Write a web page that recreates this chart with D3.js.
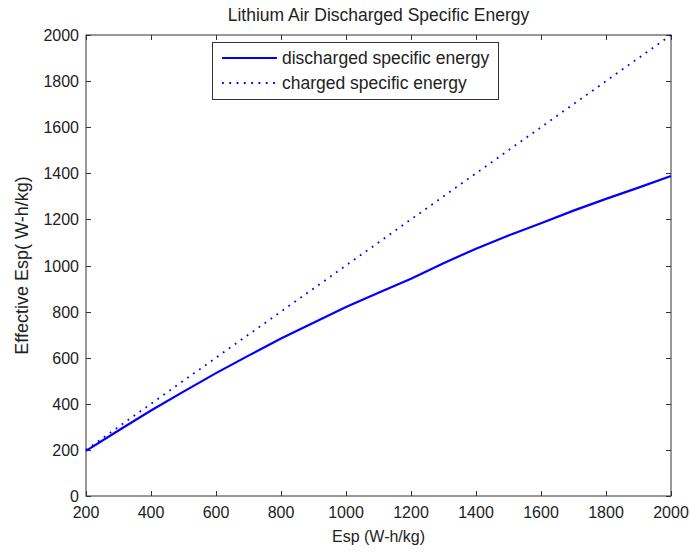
<!DOCTYPE html>
<html>
<head>
<meta charset="utf-8">
<script src="https://cdn.jsdelivr.net/npm/d3@7/dist/d3.min.js"></script>
<style>
  html, body { margin: 0; padding: 0; background: #fff; }
  svg text { font-family: "Liberation Sans", Arial, sans-serif; fill: #222; }
</style>
</head>
<body>
<svg id="chart" width="690" height="552"></svg>
<script>
// Specific energy before discharge (W-h/kg)
const esp = [200, 300, 400, 500, 600, 700, 800, 900, 1000, 1100, 1200, 1300, 1400, 1500, 1600, 1700, 1800, 1900, 2000];
// Effective specific energy once discharged (W-h/kg)
const discharged = [196, 284, 371, 453, 533, 609, 683, 752, 820, 882, 943, 1010, 1073, 1130, 1183, 1238, 1289, 1338, 1388];
// Charged specific energy equals the nominal value
const charged = [200, 300, 400, 500, 600, 700, 800, 900, 1000, 1100, 1200, 1300, 1400, 1500, 1600, 1700, 1800, 1900, 2000];

const xTicks = [200, 400, 600, 800, 1000, 1200, 1400, 1600, 1800, 2000];
const yTicks = [0, 200, 400, 600, 800, 1000, 1200, 1400, 1600, 1800, 2000];
const seriesNames = ["discharged specific energy", "charged specific energy"];

const svg = d3.select("#chart");
const L = 86, R = 671, T = 35, B = 496;

const x = d3.scaleLinear().domain([200, 2000]).range([L, R]);
const y = d3.scaleLinear().domain([0, 2000]).range([B, T]);

const axisColor = "#333";
const tickLen = 5;

// Plot box
svg.append("rect")
  .attr("x", L).attr("y", T).attr("width", R - L).attr("height", B - T)
  .attr("fill", "#fff").attr("stroke", axisColor).attr("stroke-width", 1);

// Ticks pointing inward on all four sides
const g = svg.append("g").attr("stroke", axisColor).attr("stroke-width", 1);
xTicks.forEach(t => {
  const px = Math.round(x(t)) + 0.5;
  g.append("line").attr("x1", px).attr("x2", px).attr("y1", B).attr("y2", B - tickLen);
  g.append("line").attr("x1", px).attr("x2", px).attr("y1", T).attr("y2", T + tickLen);
});
yTicks.forEach(t => {
  const py = Math.round(y(t)) + 0.5;
  g.append("line").attr("x1", L).attr("x2", L + tickLen).attr("y1", py).attr("y2", py);
  g.append("line").attr("x1", R).attr("x2", R - tickLen).attr("y1", py).attr("y2", py);
});

// Tick labels
svg.append("g").selectAll("text").data(xTicks).join("text")
  .attr("x", d => x(d)).attr("y", 518)
  .attr("text-anchor", "middle").attr("font-size", 16)
  .text(d => d);
svg.append("g").selectAll("text").data(yTicks).join("text")
  .attr("x", 79).attr("y", d => y(d) + 6)
  .attr("text-anchor", "end").attr("font-size", 16)
  .text(d => d);

// Title and axis labels
svg.append("text").attr("x", (L + R) / 2).attr("y", 21)
  .attr("text-anchor", "middle").attr("font-size", 17.5)
  .text("Lithium Air Discharged Specific Energy");
svg.append("text").attr("x", (L + R) / 2).attr("y", 542)
  .attr("text-anchor", "middle").attr("font-size", 16)
  .text("Esp (W-h/kg)");
svg.append("text")
  .attr("transform", `translate(28,${(T + B) / 2}) rotate(-90)`)
  .attr("text-anchor", "middle").attr("font-size", 18)
  .text("Effective Esp( W-h/kg)");

// Data lines
const line = d3.line().x(d => x(d[0])).y(d => y(d[1]));
svg.append("path")
  .datum(esp.map((e, i) => [e, charged[i]]))
  .attr("d", line).attr("fill", "none")
  .attr("stroke", "#0000ff").attr("stroke-width", 1.8)
  .attr("stroke-dasharray", "1.8,5.5");
svg.append("path")
  .datum(esp.map((e, i) => [e, discharged[i]]))
  .attr("d", line).attr("fill", "none")
  .attr("stroke", "#0000ff").attr("stroke-width", 2.2);

// Legend
const lg = svg.append("g");
lg.append("rect").attr("x", 212.5).attr("y", 42.5).attr("width", 286).attr("height", 57)
  .attr("fill", "#fff").attr("stroke", axisColor).attr("stroke-width", 1);
lg.append("line").attr("x1", 222).attr("x2", 277).attr("y1", 58).attr("y2", 58)
  .attr("stroke", "#0000ff").attr("stroke-width", 2.2);
lg.append("line").attr("x1", 222).attr("x2", 277).attr("y1", 83).attr("y2", 83)
  .attr("stroke", "#0000ff").attr("stroke-width", 1.8).attr("stroke-dasharray", "1.8,5.5");
lg.selectAll("text.lab").data(seriesNames).join("text")
  .attr("class", "lab")
  .attr("x", 282).attr("y", (d, i) => 64 + i * 25)
  .attr("font-size", 17.5)
  .text(d => d);
</script>
</body>
</html>
